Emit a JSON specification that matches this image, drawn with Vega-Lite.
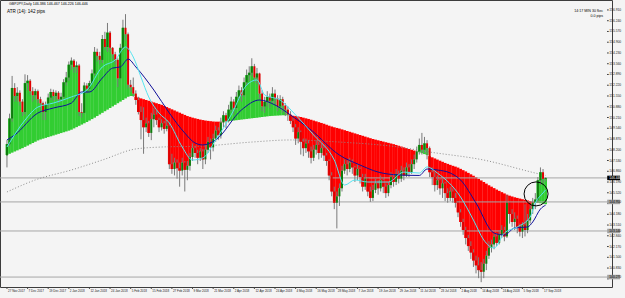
{
"$schema": "https://vega.github.io/schema/vega-lite/v6.json",
"width": 612, "height": 287,
"autosize": {"type": "none"},
"padding": {"left": 0, "top": 0, "right": 13, "bottom": 11},
"background": "#f4f4f4",
"config": {
  "view": {"stroke": "#3c3c3c", "strokeWidth": 1, "fill": "#f4f4f4"}
},
"datasets": {
"bars": [
{"i":0,"o":147.85,"h":148.8,"l":147.1,"c":148.55,"m":147.87},
{"i":1,"o":148.55,"h":150.45,"l":148.4,"c":150.15,"m":147.95},
{"i":2,"o":150.15,"h":152.8,"l":149.95,"c":152.05,"m":148.02},
{"i":3,"o":152.05,"h":152.35,"l":151.2,"c":151.55,"m":148.09},
{"i":4,"o":151.55,"h":152.1,"l":151.2,"c":151.75,"m":148.16},
{"i":5,"o":151.75,"h":151.9,"l":150.95,"c":151.2,"m":148.23},
{"i":6,"o":151.2,"h":151.35,"l":150.3,"c":150.55,"m":148.3},
{"i":7,"o":150.55,"h":152.9,"l":150.4,"c":152.35,"m":148.38},
{"i":8,"o":152.35,"h":152.85,"l":151.9,"c":152.5,"m":148.46},
{"i":9,"o":152.5,"h":152.6,"l":151.6,"c":151.85,"m":148.54},
{"i":10,"o":151.85,"h":152.1,"l":151.2,"c":151.6,"m":148.62},
{"i":11,"o":151.6,"h":152.0,"l":151.3,"c":151.85,"m":148.7},
{"i":12,"o":151.85,"h":151.95,"l":151.1,"c":151.35,"m":148.78},
{"i":13,"o":151.35,"h":151.5,"l":150.7,"c":151.1,"m":148.84},
{"i":14,"o":151.1,"h":151.2,"l":150.05,"c":150.55,"m":148.89},
{"i":15,"o":150.55,"h":151.2,"l":150.05,"c":151.0,"m":148.94},
{"i":16,"o":151.0,"h":151.7,"l":150.85,"c":151.45,"m":148.99},
{"i":17,"o":151.45,"h":152.0,"l":151.3,"c":151.8,"m":149.04},
{"i":18,"o":151.8,"h":151.95,"l":151.25,"c":151.55,"m":149.09},
{"i":19,"o":151.55,"h":151.9,"l":151.3,"c":151.75,"m":149.14},
{"i":20,"o":151.75,"h":151.85,"l":151.1,"c":151.35,"m":149.19},
{"i":21,"o":151.35,"h":151.75,"l":151.2,"c":151.5,"m":149.24},
{"i":22,"o":151.5,"h":152.6,"l":151.4,"c":152.4,"m":149.29},
{"i":23,"o":152.4,"h":153.05,"l":152.2,"c":152.7,"m":149.34},
{"i":24,"o":152.7,"h":153.7,"l":152.5,"c":153.5,"m":149.39},
{"i":25,"o":153.5,"h":153.95,"l":153.2,"c":153.75,"m":149.45},
{"i":26,"o":153.75,"h":153.85,"l":153.0,"c":153.35,"m":149.53},
{"i":27,"o":153.35,"h":153.7,"l":153.0,"c":153.45,"m":149.61},
{"i":28,"o":153.45,"h":153.55,"l":150.3,"c":150.55,"m":149.69},
{"i":29,"o":150.55,"h":151.1,"l":150.2,"c":150.5,"m":149.77},
{"i":30,"o":150.5,"h":152.4,"l":150.45,"c":152.2,"m":149.85},
{"i":31,"o":152.2,"h":152.35,"l":151.7,"c":152.0,"m":149.93},
{"i":32,"o":152.0,"h":152.5,"l":151.85,"c":152.35,"m":150.02},
{"i":33,"o":152.35,"h":153.2,"l":152.3,"c":152.95,"m":150.11},
{"i":34,"o":152.95,"h":154.6,"l":152.85,"c":154.3,"m":150.2},
{"i":35,"o":154.3,"h":154.5,"l":153.7,"c":154.05,"m":150.3},
{"i":36,"o":154.05,"h":154.3,"l":153.5,"c":153.8,"m":150.4},
{"i":37,"o":153.8,"h":155.35,"l":153.6,"c":155.1,"m":150.5},
{"i":38,"o":155.1,"h":155.55,"l":154.4,"c":154.6,"m":150.6},
{"i":39,"o":154.6,"h":156.1,"l":154.3,"c":155.5,"m":150.7},
{"i":40,"o":155.5,"h":155.6,"l":154.3,"c":154.55,"m":150.8},
{"i":41,"o":154.55,"h":154.6,"l":153.85,"c":154.15,"m":150.9},
{"i":42,"o":154.15,"h":154.3,"l":153.5,"c":153.8,"m":151.0},
{"i":43,"o":153.8,"h":153.9,"l":152.1,"c":152.65,"m":151.1},
{"i":44,"o":152.65,"h":154.8,"l":152.6,"c":154.55,"m":151.2},
{"i":45,"o":154.55,"h":156.3,"l":154.4,"c":155.8,"m":151.3},
{"i":46,"o":155.8,"h":156.65,"l":155.0,"c":155.4,"m":151.4},
{"i":47,"o":155.4,"h":155.5,"l":152.0,"c":152.25,"m":151.5},
{"i":48,"o":152.25,"h":152.55,"l":151.8,"c":152.1,"m":151.55},
{"i":49,"o":152.1,"h":152.7,"l":151.5,"c":151.7,"m":151.55},
{"i":50,"o":151.7,"h":151.9,"l":151.0,"c":151.3,"m":151.5},
{"i":51,"o":151.3,"h":151.5,"l":150.4,"c":150.55,"m":151.45},
{"i":52,"o":150.55,"h":150.9,"l":148.85,"c":150.05,"m":151.4},
{"i":53,"o":150.05,"h":150.85,"l":147.95,"c":149.6,"m":151.35},
{"i":54,"o":149.6,"h":150.2,"l":149.3,"c":149.85,"m":151.3},
{"i":55,"o":149.85,"h":150.0,"l":149.0,"c":149.25,"m":151.25},
{"i":56,"o":149.25,"h":150.5,"l":148.8,"c":150.1,"m":151.2},
{"i":57,"o":150.1,"h":150.8,"l":149.6,"c":150.4,"m":151.15},
{"i":58,"o":150.4,"h":150.65,"l":149.75,"c":150.05,"m":151.1},
{"i":59,"o":150.05,"h":150.2,"l":149.3,"c":149.6,"m":151.05},
{"i":60,"o":149.6,"h":150.1,"l":149.4,"c":149.85,"m":151.0},
{"i":61,"o":149.85,"h":150.0,"l":149.2,"c":149.5,"m":150.93},
{"i":62,"o":149.5,"h":150.05,"l":149.35,"c":149.7,"m":150.86},
{"i":63,"o":149.7,"h":149.9,"l":147.0,"c":147.3,"m":150.79},
{"i":64,"o":147.3,"h":147.95,"l":146.7,"c":147.0,"m":150.72},
{"i":65,"o":147.0,"h":147.7,"l":146.6,"c":147.4,"m":150.65},
{"i":66,"o":147.4,"h":147.6,"l":146.4,"c":147.05,"m":150.58},
{"i":67,"o":147.05,"h":147.4,"l":145.9,"c":146.9,"m":150.51},
{"i":68,"o":146.9,"h":147.7,"l":146.6,"c":147.4,"m":150.44},
{"i":69,"o":147.4,"h":147.5,"l":145.6,"c":146.95,"m":150.37},
{"i":70,"o":146.95,"h":147.5,"l":146.3,"c":147.2,"m":150.3},
{"i":71,"o":147.2,"h":148.0,"l":146.9,"c":147.75,"m":150.25},
{"i":72,"o":147.75,"h":148.6,"l":147.5,"c":148.3,"m":150.2},
{"i":73,"o":148.3,"h":148.45,"l":147.7,"c":148.0,"m":150.16},
{"i":74,"o":148.0,"h":148.2,"l":147.3,"c":147.7,"m":150.12},
{"i":75,"o":147.7,"h":148.3,"l":147.5,"c":148.1,"m":150.08},
{"i":76,"o":148.1,"h":148.25,"l":147.0,"c":147.6,"m":150.05},
{"i":77,"o":147.6,"h":148.5,"l":147.3,"c":148.2,"m":150.02},
{"i":78,"o":148.2,"h":149.0,"l":148.0,"c":148.7,"m":150.0},
{"i":79,"o":148.7,"h":148.9,"l":147.6,"c":148.35,"m":149.98},
{"i":80,"o":148.35,"h":149.2,"l":148.1,"c":148.9,"m":149.96},
{"i":81,"o":148.9,"h":149.7,"l":148.7,"c":149.4,"m":149.95},
{"i":82,"o":149.4,"h":149.6,"l":148.8,"c":149.1,"m":149.95},
{"i":83,"o":149.1,"h":150.2,"l":148.9,"c":149.9,"m":149.95},
{"i":84,"o":149.9,"h":150.6,"l":149.6,"c":150.35,"m":149.96},
{"i":85,"o":150.35,"h":150.5,"l":149.55,"c":150.0,"m":149.97},
{"i":86,"o":150.0,"h":151.0,"l":149.9,"c":150.7,"m":149.98},
{"i":87,"o":150.7,"h":151.5,"l":150.6,"c":151.2,"m":150.0},
{"i":88,"o":151.2,"h":151.35,"l":150.4,"c":150.8,"m":150.02},
{"i":89,"o":150.8,"h":151.8,"l":150.7,"c":151.5,"m":150.04},
{"i":90,"o":151.5,"h":152.2,"l":151.3,"c":151.9,"m":150.06},
{"i":91,"o":151.9,"h":152.1,"l":151.2,"c":151.6,"m":150.08},
{"i":92,"o":151.6,"h":152.7,"l":151.5,"c":152.4,"m":150.1},
{"i":93,"o":152.4,"h":153.2,"l":152.2,"c":152.85,"m":150.12},
{"i":94,"o":152.85,"h":153.4,"l":152.5,"c":153.0,"m":150.14},
{"i":95,"o":153.0,"h":153.9,"l":152.8,"c":153.4,"m":150.16},
{"i":96,"o":153.4,"h":153.55,"l":152.4,"c":152.7,"m":150.18},
{"i":97,"o":152.7,"h":153.3,"l":152.3,"c":152.95,"m":150.2},
{"i":98,"o":152.95,"h":153.0,"l":151.4,"c":151.7,"m":150.22},
{"i":99,"o":151.7,"h":151.9,"l":150.6,"c":150.9,"m":150.24},
{"i":100,"o":150.9,"h":151.5,"l":150.5,"c":151.2,"m":150.26},
{"i":101,"o":151.2,"h":151.85,"l":150.9,"c":151.5,"m":150.28},
{"i":102,"o":151.5,"h":151.7,"l":150.8,"c":151.25,"m":150.3},
{"i":103,"o":151.25,"h":152.1,"l":151.1,"c":151.7,"m":150.31},
{"i":104,"o":151.7,"h":151.95,"l":151.0,"c":151.4,"m":150.32},
{"i":105,"o":151.4,"h":151.6,"l":150.6,"c":150.9,"m":150.33},
{"i":106,"o":150.9,"h":151.6,"l":150.7,"c":151.35,"m":150.34},
{"i":107,"o":151.35,"h":151.5,"l":150.5,"c":150.95,"m":150.35},
{"i":108,"o":150.95,"h":151.1,"l":150.3,"c":150.7,"m":150.35},
{"i":109,"o":150.7,"h":150.9,"l":150.0,"c":150.4,"m":150.35},
{"i":110,"o":150.4,"h":150.6,"l":149.8,"c":150.0,"m":150.34},
{"i":111,"o":150.0,"h":150.2,"l":149.3,"c":149.6,"m":150.32},
{"i":112,"o":149.6,"h":149.8,"l":148.5,"c":148.9,"m":150.3},
{"i":113,"o":148.9,"h":149.6,"l":148.6,"c":149.3,"m":150.27},
{"i":114,"o":149.3,"h":149.4,"l":147.9,"c":148.7,"m":150.24},
{"i":115,"o":148.7,"h":148.9,"l":147.8,"c":148.3,"m":150.2},
{"i":116,"o":148.3,"h":148.9,"l":148.0,"c":148.6,"m":150.16},
{"i":117,"o":148.6,"h":148.8,"l":147.7,"c":148.1,"m":150.12},
{"i":118,"o":148.1,"h":148.4,"l":147.35,"c":147.7,"m":150.07},
{"i":119,"o":147.7,"h":148.5,"l":147.5,"c":148.2,"m":150.02},
{"i":120,"o":148.2,"h":148.8,"l":147.9,"c":148.5,"m":149.97},
{"i":121,"o":148.5,"h":148.7,"l":147.6,"c":148.0,"m":149.92},
{"i":122,"o":148.0,"h":148.6,"l":147.7,"c":148.3,"m":149.87},
{"i":123,"o":148.3,"h":148.5,"l":147.5,"c":147.85,"m":149.82},
{"i":124,"o":147.85,"h":148.0,"l":147.2,"c":147.5,"m":149.76},
{"i":125,"o":147.5,"h":147.6,"l":146.3,"c":146.6,"m":149.7},
{"i":126,"o":146.6,"h":146.8,"l":145.3,"c":145.6,"m":149.65},
{"i":127,"o":145.6,"h":145.9,"l":144.5,"c":144.9,"m":149.6},
{"i":128,"o":144.9,"h":145.6,"l":143.3,"c":145.3,"m":149.56},
{"i":129,"o":145.3,"h":146.1,"l":144.7,"c":145.8,"m":149.52},
{"i":130,"o":145.8,"h":147.2,"l":145.6,"c":146.9,"m":149.47},
{"i":131,"o":146.9,"h":147.6,"l":146.7,"c":147.3,"m":149.42},
{"i":132,"o":147.3,"h":147.55,"l":146.6,"c":147.0,"m":149.37},
{"i":133,"o":147.0,"h":147.7,"l":146.8,"c":147.4,"m":149.32},
{"i":134,"o":147.4,"h":147.6,"l":146.7,"c":147.1,"m":149.27},
{"i":135,"o":147.1,"h":147.2,"l":146.2,"c":146.6,"m":149.22},
{"i":136,"o":146.6,"h":147.3,"l":146.3,"c":147.0,"m":149.17},
{"i":137,"o":147.0,"h":147.1,"l":146.1,"c":146.5,"m":149.12},
{"i":138,"o":146.5,"h":146.7,"l":145.6,"c":145.9,"m":149.07},
{"i":139,"o":145.9,"h":146.7,"l":145.7,"c":146.4,"m":149.02},
{"i":140,"o":146.4,"h":146.5,"l":145.3,"c":145.6,"m":148.97},
{"i":141,"o":145.6,"h":145.9,"l":144.95,"c":145.2,"m":148.92},
{"i":142,"o":145.2,"h":146.0,"l":145.0,"c":145.7,"m":148.87},
{"i":143,"o":145.7,"h":146.4,"l":145.5,"c":146.1,"m":148.83},
{"i":144,"o":146.1,"h":146.3,"l":145.4,"c":145.8,"m":148.79},
{"i":145,"o":145.8,"h":146.6,"l":145.6,"c":146.3,"m":148.75},
{"i":146,"o":146.3,"h":146.5,"l":145.5,"c":145.9,"m":148.71},
{"i":147,"o":145.9,"h":146.1,"l":145.2,"c":145.5,"m":148.67},
{"i":148,"o":145.5,"h":146.2,"l":145.3,"c":146.0,"m":148.63},
{"i":149,"o":146.0,"h":146.8,"l":145.8,"c":146.5,"m":148.59},
{"i":150,"o":146.5,"h":146.7,"l":145.9,"c":146.2,"m":148.55},
{"i":151,"o":146.2,"h":147.0,"l":146.0,"c":146.7,"m":148.5},
{"i":152,"o":146.7,"h":146.9,"l":146.1,"c":146.4,"m":148.45},
{"i":153,"o":146.4,"h":147.2,"l":146.2,"c":146.9,"m":148.4},
{"i":154,"o":146.9,"h":147.1,"l":146.3,"c":146.6,"m":148.35},
{"i":155,"o":146.6,"h":147.4,"l":146.5,"c":147.1,"m":148.3},
{"i":156,"o":147.1,"h":147.3,"l":146.5,"c":146.8,"m":148.25},
{"i":157,"o":146.8,"h":147.6,"l":146.7,"c":147.3,"m":148.2},
{"i":158,"o":147.3,"h":147.9,"l":147.0,"c":147.6,"m":148.15},
{"i":159,"o":147.6,"h":148.4,"l":147.4,"c":148.1,"m":148.1},
{"i":160,"o":148.1,"h":148.9,"l":147.9,"c":148.5,"m":148.05},
{"i":161,"o":148.5,"h":149.25,"l":147.9,"c":148.2,"m":147.99},
{"i":162,"o":148.2,"h":149.0,"l":148.0,"c":148.6,"m":147.93},
{"i":163,"o":148.6,"h":148.8,"l":147.6,"c":148.3,"m":147.87},
{"i":164,"o":148.3,"h":148.4,"l":146.5,"c":146.8,"m":147.8},
{"i":165,"o":146.8,"h":147.1,"l":146.0,"c":146.5,"m":147.73},
{"i":166,"o":146.5,"h":146.8,"l":145.6,"c":146.0,"m":147.66},
{"i":167,"o":146.0,"h":146.6,"l":145.7,"c":146.3,"m":147.59},
{"i":168,"o":146.3,"h":146.5,"l":145.4,"c":145.8,"m":147.52},
{"i":169,"o":145.8,"h":146.4,"l":145.2,"c":146.1,"m":147.45},
{"i":170,"o":146.1,"h":146.2,"l":145.0,"c":145.5,"m":147.38},
{"i":171,"o":145.5,"h":145.8,"l":144.9,"c":145.2,"m":147.32},
{"i":172,"o":145.2,"h":145.9,"l":145.0,"c":145.6,"m":147.26},
{"i":173,"o":145.6,"h":145.8,"l":144.9,"c":145.2,"m":147.2},
{"i":174,"o":145.2,"h":145.5,"l":144.6,"c":144.9,"m":147.15},
{"i":175,"o":144.9,"h":145.0,"l":144.0,"c":144.3,"m":147.09},
{"i":176,"o":144.3,"h":144.5,"l":143.4,"c":143.7,"m":147.01},
{"i":177,"o":143.7,"h":143.9,"l":142.9,"c":143.2,"m":146.93},
{"i":178,"o":143.2,"h":143.4,"l":142.3,"c":142.7,"m":146.85},
{"i":179,"o":142.7,"h":142.9,"l":141.9,"c":142.2,"m":146.76},
{"i":180,"o":142.2,"h":142.5,"l":141.4,"c":141.8,"m":146.67},
{"i":181,"o":141.8,"h":142.0,"l":140.9,"c":141.3,"m":146.58},
{"i":182,"o":141.3,"h":141.6,"l":140.5,"c":141.0,"m":146.49},
{"i":183,"o":141.0,"h":141.5,"l":140.2,"c":140.7,"m":146.39},
{"i":184,"o":140.7,"h":141.2,"l":139.95,"c":140.6,"m":146.29},
{"i":185,"o":140.6,"h":141.4,"l":140.2,"c":141.1,"m":146.19},
{"i":186,"o":141.1,"h":141.9,"l":140.7,"c":141.6,"m":146.09},
{"i":187,"o":141.6,"h":142.5,"l":141.4,"c":142.1,"m":145.99},
{"i":188,"o":142.1,"h":142.6,"l":141.8,"c":142.3,"m":145.9},
{"i":189,"o":142.3,"h":143.0,"l":142.0,"c":142.8,"m":145.81},
{"i":190,"o":142.8,"h":143.0,"l":142.2,"c":142.4,"m":145.72},
{"i":191,"o":142.4,"h":143.2,"l":142.3,"c":142.9,"m":145.64},
{"i":192,"o":142.9,"h":143.5,"l":142.7,"c":143.2,"m":145.56},
{"i":193,"o":143.2,"h":143.4,"l":142.5,"c":142.8,"m":145.48},
{"i":194,"o":142.8,"h":145.4,"l":142.7,"c":144.9,"m":145.4},
{"i":195,"o":144.9,"h":145.0,"l":143.6,"c":144.2,"m":145.34},
{"i":196,"o":144.2,"h":144.5,"l":143.4,"c":143.7,"m":145.29},
{"i":197,"o":143.7,"h":144.3,"l":143.2,"c":143.9,"m":145.24},
{"i":198,"o":143.9,"h":144.1,"l":143.0,"c":143.4,"m":145.2},
{"i":199,"o":143.4,"h":143.6,"l":142.8,"c":143.1,"m":145.16},
{"i":200,"o":143.1,"h":143.7,"l":142.7,"c":143.5,"m":145.12},
{"i":201,"o":143.5,"h":144.8,"l":142.8,"c":143.2,"m":145.08},
{"i":202,"o":143.2,"h":144.2,"l":143.0,"c":143.8,"m":145.04},
{"i":203,"o":143.8,"h":144.8,"l":143.6,"c":144.5,"m":145.0},
{"i":204,"o":144.5,"h":145.2,"l":144.2,"c":144.9,"m":144.96},
{"i":205,"o":144.9,"h":145.5,"l":144.5,"c":145.1,"m":144.93},
{"i":206,"o":145.1,"h":146.5,"l":144.9,"c":146.3,"m":144.9},
{"i":207,"o":146.3,"h":147.1,"l":146.0,"c":146.8,"m":144.87},
{"i":208,"o":146.8,"h":147.0,"l":146.1,"c":146.386,"m":144.84},
{"i":209,"o":146.386,"h":146.467,"l":146.226,"c":146.446,"m":144.81}
],
"blue": [
{"i":0,"v":148.81},{"i":3,"v":149.12},{"i":12,"v":150.49},{"i":18,"v":150.8},{"i":25,"v":151.11},{"i":29,"v":151.8},{"i":32,"v":151.8},{"i":37,"v":152.67},{"i":41,"v":153.29},{"i":44,"v":153.36},{"i":47,"v":153.85},{"i":50,"v":153.36},{"i":57,"v":151.92},{"i":63,"v":150.49},{"i":69,"v":149.24},{"i":73,"v":148.62},{"i":76,"v":148.5},{"i":81,"v":148.81},{"i":91,"v":150.68},{"i":98,"v":151.3},{"i":104,"v":150.99},{"i":110,"v":150.37},{"i":118,"v":149.43},{"i":129,"v":147.87},{"i":137,"v":147.25},{"i":144,"v":146.81},{"i":152,"v":146.63},{"i":160,"v":146.6},{"i":163,"v":147.0},{"i":167,"v":146.94},{"i":172,"v":146.75},{"i":176,"v":146.32},{"i":182,"v":144.88},{"i":189,"v":143.01},{"i":193,"v":142.89},{"i":197,"v":143.33},{"i":202,"v":143.39},{"i":204,"v":143.7},{"i":207,"v":144.51},{"i":209,"v":144.75}
],
"cyan": [
{"i":0,"v":148.37},{"i":7,"v":150.05},{"i":12,"v":150.86},{"i":18,"v":151.11},{"i":25,"v":151.49},{"i":31,"v":151.92},{"i":37,"v":153.36},{"i":42,"v":153.79},{"i":46,"v":154.6},{"i":49,"v":153.98},{"i":52,"v":152.73},{"i":55,"v":151.49},{"i":59,"v":150.49},{"i":63,"v":149.87},{"i":68,"v":148.37},{"i":72,"v":147.56},{"i":76,"v":147.69},{"i":81,"v":148.81},{"i":87,"v":150.37},{"i":93,"v":152.23},{"i":97,"v":152.55},{"i":100,"v":151.61},{"i":106,"v":151.3},{"i":112,"v":150.37},{"i":119,"v":149.12},{"i":127,"v":147.56},{"i":131,"v":146.0},{"i":135,"v":146.32},{"i":140,"v":146.19},{"i":148,"v":146.19},{"i":154,"v":146.81},{"i":160,"v":146.75},{"i":163,"v":147.13},{"i":167,"v":146.75},{"i":176,"v":145.26},{"i":181,"v":143.82},{"i":185,"v":142.58},{"i":189,"v":142.08},{"i":193,"v":143.01},{"i":198,"v":143.39},{"i":203,"v":144.01},{"i":205,"v":144.88},{"i":208,"v":145.51},{"i":209,"v":145.7}
],
"ma200": [
{"i":0,"v":145.57},{"i":11,"v":146.32},{"i":25,"v":146.94},{"i":37,"v":147.56},{"i":50,"v":148.25},{"i":60,"v":148.37},{"i":76,"v":148.43},{"i":95,"v":148.68},{"i":110,"v":148.81},{"i":129,"v":148.68},{"i":152,"v":148.37},{"i":164,"v":148.06},{"i":185,"v":147.56},{"i":205,"v":146.75},{"i":209,"v":146.6}
],
"levels": [
{"p":146.446,"kind":"bid","label":"146.446"},
{"p":144.95,"kind":"lvl","label":"144.950"},
{"p":143.14,"kind":"lvl","label":"143.140"},
{"p":140.27,"kind":"lvl","label":"140.270"}
],
"xticks": [
{"i":0,"t":"27 Nov 2017"},{"i":8,"t":"7 Dec 2017"},{"i":16,"t":"19 Dec 2017"},{"i":24,"t":"2 Jan 2018"},{"i":32,"t":"12 Jan 2018"},{"i":40,"t":"24 Jan 2018"},{"i":48,"t":"5 Feb 2018"},{"i":56,"t":"15 Feb 2018"},{"i":64,"t":"27 Feb 2018"},{"i":72,"t":"9 Mar 2018"},{"i":80,"t":"21 Mar 2018"},{"i":88,"t":"2 Apr 2018"},{"i":96,"t":"12 Apr 2018"},{"i":104,"t":"24 Apr 2018"},{"i":112,"t":"4 May 2018"},{"i":120,"t":"16 May 2018"},{"i":128,"t":"28 May 2018"},{"i":136,"t":"7 Jun 2018"},{"i":144,"t":"19 Jun 2018"},{"i":152,"t":"29 Jun 2018"},{"i":160,"t":"11 Jul 2018"},{"i":168,"t":"23 Jul 2018"},{"i":176,"t":"2 Aug 2018"},{"i":184,"t":"14 Aug 2018"},{"i":192,"t":"24 Aug 2018"},{"i":200,"t":"5 Sep 2018"},{"i":208,"t":"17 Sep 2018"}
],
"yticks": [
{"p":156.91,"t":"156.910"},{"p":156.24,"t":"156.240"},{"p":155.57,"t":"155.570"},{"p":154.9,"t":"154.900"},{"p":154.23,"t":"154.230"},{"p":153.56,"t":"153.560"},{"p":152.89,"t":"152.890"},{"p":152.22,"t":"152.220"},{"p":151.55,"t":"151.550"},{"p":150.88,"t":"150.880"},{"p":150.21,"t":"150.210"},{"p":149.54,"t":"149.540"},{"p":148.87,"t":"148.870"},{"p":148.2,"t":"148.200"},{"p":147.53,"t":"147.530"},{"p":146.86,"t":"146.860"},{"p":146.19,"t":"146.190"},{"p":145.52,"t":"145.520"},{"p":144.85,"t":"144.850"},{"p":144.18,"t":"144.180"},{"p":143.51,"t":"143.510"},{"p":142.84,"t":"142.840"},{"p":142.17,"t":"142.170"},{"p":141.5,"t":"141.500"},{"p":140.83,"t":"140.830"},{"p":140.16,"t":"140.160"}
]
},
"layer": [
{"data":{"name":"bars"},
 "mark":{"type":"bar","size":2.8,"orient":"vertical"},
 "encoding":{
  "x":{"field":"i","type":"quantitative","axis":null,"scale":{"domain":[-0.76,232.82],"nice":false,"zero":false}},
  "y":{"field":"m","type":"quantitative","axis":null,"scale":{"domain":[139.65,157.53],"nice":false,"zero":false}},
  "y2":{"field":"c"},
  "color":{"condition":{"test":"datum.c >= datum.m","value":"#32cd32"},"value":"#ff0000"}
 }},
{"data":{"name":"levels"},
 "mark":{"type":"rule","color":"#a6a6a6","strokeWidth":1},
 "encoding":{"y":{"field":"p","type":"quantitative","axis":null,"scale":{"domain":[139.65,157.53],"nice":false,"zero":false}}}},
{"data":{"name":"ma200"},
 "mark":{"type":"line","color":"#8c8c8c","strokeWidth":1,"strokeDash":[1,2],"interpolate":"monotone"},
 "encoding":{"x":{"field":"i","type":"quantitative","axis":null,"scale":{"domain":[-0.76,232.82],"nice":false,"zero":false}},
  "y":{"field":"v","type":"quantitative","axis":null,"scale":{"domain":[139.65,157.53],"nice":false,"zero":false}}}},
{"data":{"name":"bars"},
 "mark":{"type":"rule","color":"#7a7a7a","strokeWidth":1},
 "encoding":{"x":{"field":"i","type":"quantitative","axis":null,"scale":{"domain":[-0.76,232.82],"nice":false,"zero":false}},
  "y":{"field":"l","type":"quantitative","axis":null,"scale":{"domain":[139.65,157.53],"nice":false,"zero":false}},
  "y2":{"field":"h"}}},
{"data":{"name":"bars"},
 "mark":{"type":"bar","size":2,"orient":"vertical"},
 "encoding":{"x":{"field":"i","type":"quantitative","axis":null,"scale":{"domain":[-0.76,232.82],"nice":false,"zero":false}},
  "y":{"field":"o","type":"quantitative","axis":null,"scale":{"domain":[139.65,157.53],"nice":false,"zero":false}},
  "y2":{"field":"c"},
  "color":{"condition":{"test":"datum.c >= datum.o","value":"#0e7d0e"},"value":"#e00000"}}},
{"data":{"name":"blue"},
 "mark":{"type":"line","color":"#10109a","strokeWidth":1,"interpolate":"monotone"},
 "encoding":{"x":{"field":"i","type":"quantitative","axis":null,"scale":{"domain":[-0.76,232.82],"nice":false,"zero":false}},
  "y":{"field":"v","type":"quantitative","axis":null,"scale":{"domain":[139.65,157.53],"nice":false,"zero":false}}}},
{"data":{"name":"cyan"},
 "mark":{"type":"line","color":"#55e4f0","strokeWidth":1,"interpolate":"monotone"},
 "encoding":{"x":{"field":"i","type":"quantitative","axis":null,"scale":{"domain":[-0.76,232.82],"nice":false,"zero":false}},
  "y":{"field":"v","type":"quantitative","axis":null,"scale":{"domain":[139.65,157.53],"nice":false,"zero":false}}}},
{"data":{"values":[{}]},
 "mark":{"type":"point","shape":"circle","size":576,"filled":false,"stroke":"#000000","strokeWidth":1,"opacity":1},
 "encoding":{"x":{"datum":205.3,"type":"quantitative","axis":null,"scale":{"domain":[-0.76,232.82],"nice":false,"zero":false}},
  "y":{"datum":145.45,"type":"quantitative","axis":null,"scale":{"domain":[139.65,157.53],"nice":false,"zero":false}}}},
{"data":{"name":"xticks"},
 "mark":{"type":"rule","color":"#404040","strokeWidth":1},
 "encoding":{"x":{"field":"i","type":"quantitative","axis":null,"scale":{"domain":[-0.76,232.82],"nice":false,"zero":false}},
  "y":{"datum":139.65,"type":"quantitative","axis":null,"scale":{"domain":[139.65,157.53],"nice":false,"zero":false}},
  "y2":{"datum":139.53}}},
{"data":{"name":"xticks"},
 "mark":{"type":"text","fontSize":3,"align":"left","baseline":"top","font":"Liberation Sans","color":"#202020","dx":1},
 "encoding":{"x":{"field":"i","type":"quantitative","axis":null,"scale":{"domain":[-0.76,232.82],"nice":false,"zero":false}},
  "y":{"datum":139.5,"type":"quantitative","axis":null,"scale":{"domain":[139.65,157.53],"nice":false,"zero":false}},
  "text":{"field":"t"}}},
{"data":{"name":"yticks"},
 "mark":{"type":"rule","color":"#404040","strokeWidth":1},
 "encoding":{"x":{"datum":232.82,"type":"quantitative","axis":null,"scale":{"domain":[-0.76,232.82],"nice":false,"zero":false}},
  "x2":{"datum":233.5},
  "y":{"field":"p","type":"quantitative","axis":null,"scale":{"domain":[139.65,157.53],"nice":false,"zero":false}}}},
{"data":{"name":"yticks"},
 "transform":[{"filter":"datum.p != 144.85 && datum.p != 140.16"}],
 "mark":{"type":"text","fontSize":3.3,"align":"left","baseline":"middle","font":"Liberation Sans","color":"#202020"},
 "encoding":{"x":{"datum":233.7,"type":"quantitative","axis":null,"scale":{"domain":[-0.76,232.82],"nice":false,"zero":false}},
  "y":{"field":"p","type":"quantitative","axis":null,"scale":{"domain":[139.65,157.53],"nice":false,"zero":false}},
  "text":{"field":"t"}}},
{"data":{"name":"levels"},
 "mark":{"type":"rule","strokeWidth":4.5},
 "encoding":{"x":{"datum":232.9,"type":"quantitative","axis":null,"scale":{"domain":[-0.76,232.82],"nice":false,"zero":false}},
  "x2":{"datum":237.9},
  "y":{"field":"p","type":"quantitative","axis":null,"scale":{"domain":[139.65,157.53],"nice":false,"zero":false}},
  "color":{"condition":{"test":"datum.kind == 'bid'","value":"#000000"},"value":"#a0a0a0"}}},
{"data":{"name":"levels"},
 "mark":{"type":"text","fontSize":3.3,"align":"left","baseline":"middle","font":"Liberation Sans"},
 "encoding":{"x":{"datum":233.7,"type":"quantitative","axis":null,"scale":{"domain":[-0.76,232.82],"nice":false,"zero":false}},
  "y":{"field":"p","type":"quantitative","axis":null,"scale":{"domain":[139.65,157.53],"nice":false,"zero":false}},
  "text":{"field":"label"},
  "color":{"condition":{"test":"datum.kind == 'bid'","value":"#ffffff"},"value":"#000000"}}},
{"data":{"values":[{}]},
 "mark":{"type":"text","text":"GBPJPY,Daily  146.386 146.467 146.226 146.446","fontSize":3.6,"align":"left","baseline":"top","font":"Liberation Sans","color":"#000000"},
 "encoding":{"x":{"datum":0.8,"type":"quantitative","axis":null,"scale":{"domain":[-0.76,232.82],"nice":false,"zero":false}},
  "y":{"datum":157.42,"type":"quantitative","axis":null,"scale":{"domain":[139.65,157.53],"nice":false,"zero":false}}}},
{"data":{"values":[{}]},
 "mark":{"type":"text","text":"ATR (14): 142 pips","fontSize":4.6,"align":"left","baseline":"top","font":"Liberation Sans","color":"#000000"},
 "encoding":{"x":{"datum":0,"type":"quantitative","axis":null,"scale":{"domain":[-0.76,232.82],"nice":false,"zero":false}},
  "y":{"datum":157.0,"type":"quantitative","axis":null,"scale":{"domain":[139.65,157.53],"nice":false,"zero":false}}}},
{"data":{"values":[{}]},
 "mark":{"type":"text","text":"14:17 MIN 30 Sec","fontSize":3.6,"align":"right","baseline":"top","font":"Liberation Sans","color":"#000000"},
 "encoding":{"x":{"datum":231.3,"type":"quantitative","axis":null,"scale":{"domain":[-0.76,232.82],"nice":false,"zero":false}},
  "y":{"datum":157.0,"type":"quantitative","axis":null,"scale":{"domain":[139.65,157.53],"nice":false,"zero":false}}}},
{"data":{"values":[{}]},
 "mark":{"type":"text","text":"0.0 pips","fontSize":3.6,"align":"right","baseline":"top","font":"Liberation Sans","color":"#000000"},
 "encoding":{"x":{"datum":231.3,"type":"quantitative","axis":null,"scale":{"domain":[-0.76,232.82],"nice":false,"zero":false}},
  "y":{"datum":156.68,"type":"quantitative","axis":null,"scale":{"domain":[139.65,157.53],"nice":false,"zero":false}}}}
]
}
